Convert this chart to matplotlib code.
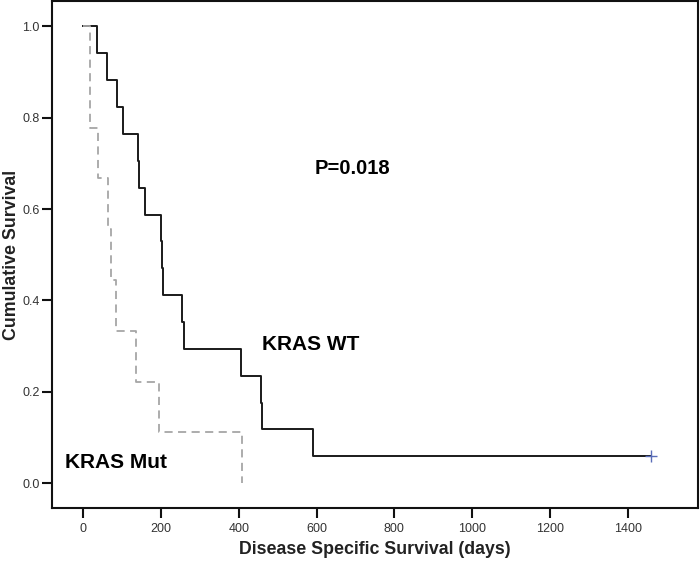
import matplotlib
matplotlib.use("Agg")
import matplotlib.pyplot as plt

# ----------------------------------------------------------
# DATA
# ----------------------------------------------------------
wt_times = [0, 35, 61, 88, 102, 141, 143, 158, 200, 202, 205, 253, 259, 407, 456, 460, 592, 1460]
wt_surv = [1.0, 0.941, 0.882, 0.824, 0.765, 0.706, 0.647, 0.588, 0.529, 0.471,
           0.412, 0.353, 0.294, 0.235, 0.176, 0.118, 0.059, 0.059]

mut_times = [0, 18, 38, 63, 71, 84, 136, 195, 409]
mut_surv = [1.0, 0.778, 0.667, 0.556, 0.444, 0.333, 0.222, 0.111, 0.0]

wt_censor_times = [1460]
wt_censor_surv = [0.059]

x_ticks = [0, 200, 400, 600, 800, 1000, 1200, 1400]
y_ticks = [0.0, 0.2, 0.4, 0.6, 0.8, 1.0]

plt.rcParams["font.family"] = ["Liberation Sans", "DejaVu Sans"]

fig = plt.figure(figsize=(7.0, 5.66), dpi=100)
ax = fig.add_axes([0.0743, 0.1025, 0.9227, 0.895])

# --- curves ---
ax.step(wt_times, wt_surv, where="post", color="#1a1a1a", lw=1.4, zorder=3)
ax.step(mut_times, mut_surv, where="post", color="#a6a6a6", lw=1.3,
        linestyle=(0, (4.5, 3)), zorder=4)
ax.plot(wt_censor_times, wt_censor_surv, linestyle="none", marker="+",
        markersize=8, markeredgewidth=1.0, color="#5a6db8", zorder=5)

# --- annotations ---
ax.text(691, 0.688, "P=0.018", fontsize=14.5, fontweight="bold", ha="center", va="center")
ax.text(460, 0.303, "KRAS WT", fontsize=15, fontweight="bold", ha="left", va="center")
ax.text(-46, 0.044, "KRAS Mut", fontsize=15, fontweight="bold", ha="left", va="center")

# --- axes ---
ax.set_xlim(-80, 1580)
ax.set_ylim(-0.0546, 1.0546)
ax.set_xticks(x_ticks)
ax.set_yticks(y_ticks)
ax.set_yticklabels([f"{v:.1f}" for v in y_ticks])
ax.tick_params(axis="both", direction="out", length=7, width=1.5,
               labelsize=9, labelcolor="#333333", color="#111111")
ax.tick_params(axis="y", pad=2)
ax.tick_params(axis="x", pad=4)
for spine in ax.spines.values():
    spine.set_linewidth(1.5)
    spine.set_color("#111111")

ax.set_xlabel("Disease Specific Survival (days)", fontsize=12.8, fontweight="bold",
              color="#222222")
ax.set_ylabel("Cumulative Survival", fontsize=12.8, fontweight="bold",
              color="#222222")
ax.xaxis.set_label_coords(0.5, -0.066)
ax.yaxis.set_label_coords(-0.049, 0.5)

fig.savefig("out.png", dpi=100)
